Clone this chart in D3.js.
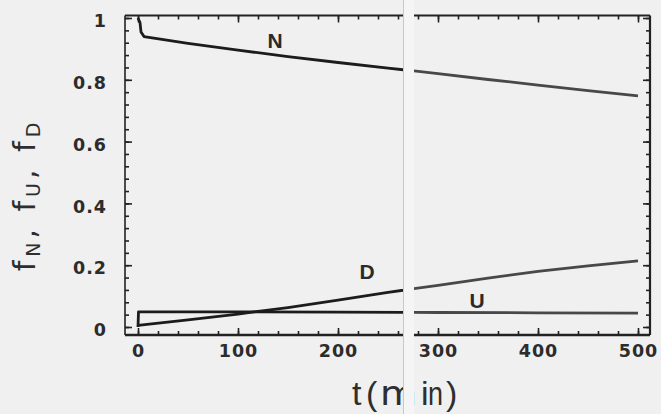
<!DOCTYPE html>
<html>
<head>
<meta charset="utf-8">
<script src="https://cdn.jsdelivr.net/npm/d3@7/dist/d3.min.js"></script>
<style>
  html, body { margin: 0; padding: 0; background: #f0f0f0; }
  svg { display: block; }
</style>
</head>
<body>
<svg id="chart" width="661" height="414"></svg>
<script>
// Fractions of native (N), unfolded (U) and denatured (D) molecules vs time
const tN = [0, 2, 3, 6, 50, 100, 150, 200, 250, 300, 350, 400, 450, 500];
const fN = [1.0, 0.985, 0.955, 0.940, 0.918, 0.896, 0.875, 0.856, 0.838, 0.820, 0.801, 0.783, 0.765, 0.748];

const tU = [0, 0.5, 100, 200, 300, 400, 500];
const fU = [0.0, 0.049, 0.049, 0.048, 0.047, 0.046, 0.045];

const tD = [0, 50, 100, 150, 200, 250, 300, 350, 400, 450, 500];
const fD = [0.005, 0.023, 0.042, 0.063, 0.087, 0.112, 0.135, 0.158, 0.180, 0.198, 0.214];

// Curve annotations: [label, t, f]
const curveLabels = [["N", 137, 0.926], ["D", 229, 0.178], ["U", 339, 0.087]];

const xMajor = [0, 100, 200, 300, 400, 500];
const xMinor = d3.range(0, 501, 20);
const yMajor = [0, 0.2, 0.4, 0.6, 0.8, 1];
const yMinor = d3.range(0, 1.0001, 0.04);
const yTickText = ["0", "0.2", "0.4", "0.6", "0.8", "1"];

// Splice in the scanned sheet, in minutes
const seamStart = 265, seamEnd = 276;

const svg = d3.select("#chart");
const box = { left: 125, right: 650, top: 15.5, bottom: 335 };

const x = d3.scaleLinear().domain([0, 500]).range([138, 638]);
const y = d3.scaleLinear().domain([0, 1]).range([327, 18]);

const ink = "#222";
const font = "'DejaVu Sans', Arial, sans-serif";
const lfont = "'Liberation Sans', Arial, sans-serif";

// Frame
svg.append("line").attr("x1", box.left).attr("x2", box.right).attr("y1", box.bottom).attr("y2", box.bottom)
  .attr("stroke", ink).attr("stroke-width", 2.6);
svg.append("line").attr("x1", box.left).attr("x2", box.right).attr("y1", box.top).attr("y2", box.top)
  .attr("stroke", ink).attr("stroke-width", 2.2);
svg.append("line").attr("x1", box.left).attr("x2", box.left).attr("y1", box.top).attr("y2", box.bottom)
  .attr("stroke", ink).attr("stroke-width", 1.6);
svg.append("line").attr("x1", box.right).attr("x2", box.right).attr("y1", box.top).attr("y2", box.bottom)
  .attr("stroke", ink).attr("stroke-width", 2.2);

function styleAxis(g) {
  g.select(".domain").remove();
  g.selectAll(".tick line").attr("stroke", ink).attr("stroke-width", 1.6);
  g.selectAll(".tick text").attr("fill", "#2c2c2c").attr("font-family", font)
    .attr("font-weight", "bold").attr("font-size", 17.5).attr("letter-spacing", 1);
}

// Bottom axis
svg.append("g").attr("transform", `translate(0,${box.bottom})`)
  .call(d3.axisBottom(x).tickValues(xMinor).tickSize(-4).tickFormat(""))
  .call(styleAxis);
svg.append("g").attr("transform", `translate(0,${box.bottom})`)
  .call(d3.axisBottom(x).tickValues(xMajor).tickSize(-7).tickPadding(10).tickFormat(d3.format("d")))
  .call(styleAxis);
// Top axis
svg.append("g").attr("transform", `translate(0,${box.top})`)
  .call(d3.axisTop(x).tickValues(xMinor).tickSize(-4).tickFormat(""))
  .call(styleAxis);
svg.append("g").attr("transform", `translate(0,${box.top})`)
  .call(d3.axisTop(x).tickValues(xMajor).tickSize(-7).tickFormat(""))
  .call(styleAxis);
// Left axis
svg.append("g").attr("transform", `translate(${box.left},0)`)
  .call(d3.axisLeft(y).tickValues(yMinor).tickSize(-4).tickFormat(""))
  .call(styleAxis);
const yl = svg.append("g").attr("transform", `translate(${box.left},0)`)
  .call(d3.axisLeft(y).tickValues(yMajor).tickSize(-7).tickPadding(18)
    .tickFormat((d, i) => yTickText[i]))
  .call(styleAxis);
yl.selectAll(".tick text").attr("dy", "0.5em");
// Right axis
svg.append("g").attr("transform", `translate(${box.right},0)`)
  .call(d3.axisRight(y).tickValues(yMinor).tickSize(-4).tickFormat(""))
  .call(styleAxis);
svg.append("g").attr("transform", `translate(${box.right},0)`)
  .call(d3.axisRight(y).tickValues(yMajor).tickSize(-7).tickFormat(""))
  .call(styleAxis);

// Curves: darker left of the splice, greyer right of it
const defs = svg.append("defs");
defs.append("clipPath").attr("id", "leftPart").append("rect")
  .attr("x", 0).attr("y", 0).attr("width", x(seamStart)).attr("height", 414);
defs.append("clipPath").attr("id", "rightPart").append("rect")
  .attr("x", x(seamEnd)).attr("y", 0).attr("width", 661 - x(seamEnd)).attr("height", 414);

const series = [[tN, fN], [tU, fU], [tD, fD]];
const line = d3.line().x(d => x(d[0])).y(d => y(d[1]));
[["leftPart", "#1c1c1c"], ["rightPart", "#484848"]].forEach(([clip, col]) => {
  const g = svg.append("g").attr("clip-path", `url(#${clip})`);
  series.forEach(([t, f]) => {
    g.append("path").datum(t.map((v, i) => [v, f[i]]))
      .attr("d", line).attr("fill", "none")
      .attr("stroke", col).attr("stroke-width", 2.8)
      .attr("stroke-linejoin", "round");
  });
});

// Curve labels
svg.selectAll(".clabel").data(curveLabels).join("text")
  .attr("class", "clabel")
  .attr("x", d => x(d[1])).attr("y", d => y(d[2]))
  .attr("text-anchor", "middle").attr("dominant-baseline", "central")
  .attr("font-family", lfont).attr("font-weight", "bold").attr("font-size", 21)
  .attr("fill", "#2a2a2a")
  .text(d => d[0]);

// x-axis title, one glyph per span so the lettering keeps its spacing
const xt = svg.append("text").attr("y", 405)
  .attr("font-family", lfont).attr("font-size", 34).attr("fill", "#2e2e2e");
[["t", 352, 0], ["(", 366, 0], ["m", 380, 37], ["i", 421, 0], ["n", 428, 15], [")", 446, 0]]
  .forEach(([ch, px, len]) => {
    const s = xt.append("tspan").attr("x", px).text(ch);
    if (ch === "m") s.attr("font-family", font);
    if (len) s.attr("textLength", len).attr("lengthAdjust", "spacingAndGlyphs");
  });

// y-axis title
const yt = svg.append("text")
  .attr("transform", "translate(35,195) rotate(-90)")
  .attr("text-anchor", "middle")
  .attr("font-family", font).attr("font-size", 30).attr("fill", "#2e2e2e")
  .attr("letter-spacing", 4);
[["f", "N"], ["f", "U"], ["f", "D"]].forEach(([a, s], i) => {
  yt.append("tspan").text(a);
  yt.append("tspan").attr("font-size", 19).attr("dy", 5).text(s);
  yt.append("tspan").attr("dy", -5).text(i < 2 ? ", " : "");
});

// Splice strip in the sheet
svg.append("rect").attr("x", x(seamStart)).attr("y", 0)
  .attr("width", x(seamEnd) - x(seamStart)).attr("height", 414)
  .attr("fill", "#f5f5f5");
svg.append("line").attr("x1", x(seamStart) + 0.5).attr("x2", x(seamStart) + 0.5)
  .attr("y1", 0).attr("y2", 414).attr("stroke", "#eeb0e6").attr("stroke-width", 1);
</script>
</body>
</html>
